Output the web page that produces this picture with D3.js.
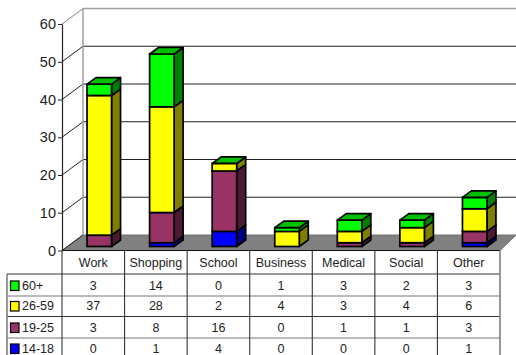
<!DOCTYPE html>
<html>
<head>
<meta charset="utf-8">
<script src="https://cdn.jsdelivr.net/npm/d3@7/dist/d3.min.js"></script>
<style>
html,body{margin:0;padding:0;background:#fff;overflow:hidden}
svg{display:block;font-family:"Liberation Sans",Arial,sans-serif}
</style>
</head>
<body>
<svg id="chart" width="516" height="355"></svg>
<script>
// Trips by purpose and age group, stacked 3-D columns over a data table.
const categories = ["Work","Shopping","School","Business","Medical","Social","Other"];
const seriesNames = ["14-18","19-25","26-59","60+"];
const age1418 = [0,1,4,0,0,0,1];
const age1925 = [3,8,16,0,1,1,3];
const age2659 = [37,28,2,4,3,4,6];
const age60 = [3,14,0,1,3,2,3];
const yTicks = [0,10,20,30,40,50,60];
const seriesValues = [age1418, age1925, age2659, age60];
const fronts = ["#0000ff","#993366","#ffff00","#00ff00"];
const sides = ["#000080","#4d1a33","#808000","#008000"];
const tops = ["#0000c0","#73264d","#c0c000","#00c000"];

const svg = d3.select("#chart");
const depthX = 21, depthY = 15.5;       // wall offset of the chart box
const barDX = 9, barDY = 6.5;           // depth of each column

const x = d3.scaleBand().domain(categories).range([62,500]);
const y = d3.scaleLinear().domain([0,60]).range([250.5,24]);
const barWidth = 24.5;
const barBase = 246.5;
const barLeft = c => x(c) + x.bandwidth()/2 - barWidth/2 + 6;
const h = v => y(0) - y(v);

// Floor of the box
svg.append("path")
  .attr("d", d3.line()([[62,y(0)],[62+depthX,y(0)-depthY],[516,y(0)-depthY],[500,y(0)]]))
  .attr("fill","#808080").attr("stroke","#707070");

// Back wall gridlines and their diagonals on the side wall
const grid = svg.append("g");
yTicks.forEach(t => {
  const yy = y(t);
  if (t > 0) {
    grid.append("line").attr("x1",83).attr("x2",516).attr("y1",yy-depthY).attr("y2",yy-depthY)
      .attr("stroke", t === 60 ? "#a0a0a0" : "#222").attr("stroke-width",t === 60 ? 1.5 : 1.1);
    grid.append("line").attr("x1",62).attr("x2",83).attr("y1",yy).attr("y2",yy-depthY)
      .attr("stroke", t === 60 ? "#808080" : "#222").attr("stroke-width",1);
  }
});
grid.append("line").attr("x1",83).attr("x2",83).attr("y1",y(60)-depthY).attr("y2",y(0)-depthY)
  .attr("stroke","#a0a0a0").attr("stroke-width",1.5);
grid.append("line").attr("x1",62).attr("x2",83).attr("y1",y(0)).attr("y2",y(0)-depthY)
  .attr("stroke","#222");

// Value axis
const axis = svg.append("g").attr("transform","translate(62,0)")
  .call(d3.axisLeft(y).tickValues(yTicks).tickSize(4).tickSizeOuter(0).tickPadding(2));
axis.select(".domain").attr("stroke","#222").attr("stroke-width",1.2);
axis.selectAll("line").attr("stroke","#222");
axis.selectAll("text").attr("font-size",14.5).attr("font-family","Liberation Sans").attr("fill","#222");

// Stacked columns
const stackG = svg.append("g");
const barStroke = 1.7;
categories.forEach((c,ci) => {
  let acc = 0;
  const left = barLeft(c), right = left + barWidth;
  seriesValues.forEach((s,si) => {
    const v = s[ci];
    const y0 = barBase - h(acc), y1 = barBase - h(acc + v);
    acc += v;
    const isLast = si === seriesValues.length - 1;
    if (v > 0) {
      stackG.append("path")
        .attr("d", d3.line()([[right,y0],[right+barDX,y0-barDY],[right+barDX,y1-barDY],[right,y1]]) + "Z")
        .attr("fill",sides[si]).attr("stroke","#000").attr("stroke-width",barStroke).attr("stroke-linejoin","round");
      stackG.append("rect").attr("x",left).attr("y",y1).attr("width",barWidth).attr("height",y0-y1)
        .attr("fill",fronts[si]).attr("stroke","#000").attr("stroke-width",barStroke);
    }
    if (isLast) {
      stackG.append("path")
        .attr("d", d3.line()([[left,y1],[left+barDX,y1-barDY],[right+barDX,y1-barDY],[right,y1]]) + "Z")
        .attr("fill",tops[si]).attr("stroke","#000").attr("stroke-width",barStroke).attr("stroke-linejoin","round");
    }
  });
});

// Data table
const rowEdges = [250.5,274,296,316.5,338,360];
const rows = [age60, age2659, age1925, age1418];
const rowLabels = seriesNames.slice().reverse();
const rowColors = fronts.slice().reverse();
const table = svg.append("g").attr("font-size",12.5).attr("fill","#222");
const lineColor = "#333";

table.append("line").attr("x1",62).attr("x2",500).attr("y1",rowEdges[0]).attr("y2",rowEdges[0])
  .attr("stroke","#111").attr("stroke-width",1.2);
rowEdges.slice(1,5).forEach((ry,i) => {
  table.append("line").attr("x1",7).attr("x2",500).attr("y1",ry).attr("y2",ry)
    .attr("stroke", i % 2 ? "#777" : lineColor).attr("stroke-width",1.2);
});
const colEdges = categories.map(c => x(c)).concat([500]);
colEdges.forEach((cx,i) => {
  table.append("line").attr("x1",cx).attr("x2",cx).attr("y1",rowEdges[0]).attr("y2",355)
    .attr("stroke", i === 7 ? "#777" : lineColor).attr("stroke-width",i === 7 ? 1.5 : 1.1);
});
table.append("line").attr("x1",7).attr("x2",7).attr("y1",rowEdges[1]).attr("y2",355)
  .attr("stroke","#777").attr("stroke-width",1.5);

categories.forEach(c => {
  table.append("text").attr("x",x(c)+x.bandwidth()/2).attr("y",262.5)
    .attr("dy","0.35em").attr("text-anchor","middle").text(c);
});
const rowCentres = [285.5,306,327.5,348.5];
rows.forEach((row,ri) => {
  const cy = rowCentres[ri];
  table.append("rect").attr("x",10.5).attr("y",cy-4.5).attr("width",8.5).attr("height",9.5)
    .attr("fill",rowColors[ri]).attr("stroke","#000").attr("stroke-width",1.2);
  table.append("text").attr("x",22).attr("y",cy).attr("dy","0.35em").text(rowLabels[ri]);
  row.forEach((v,ci) => {
    table.append("text").attr("x",x(categories[ci])+x.bandwidth()/2).attr("y",cy)
      .attr("dy","0.35em").attr("text-anchor","middle").text(v);
  });
});
</script>
</body>
</html>
